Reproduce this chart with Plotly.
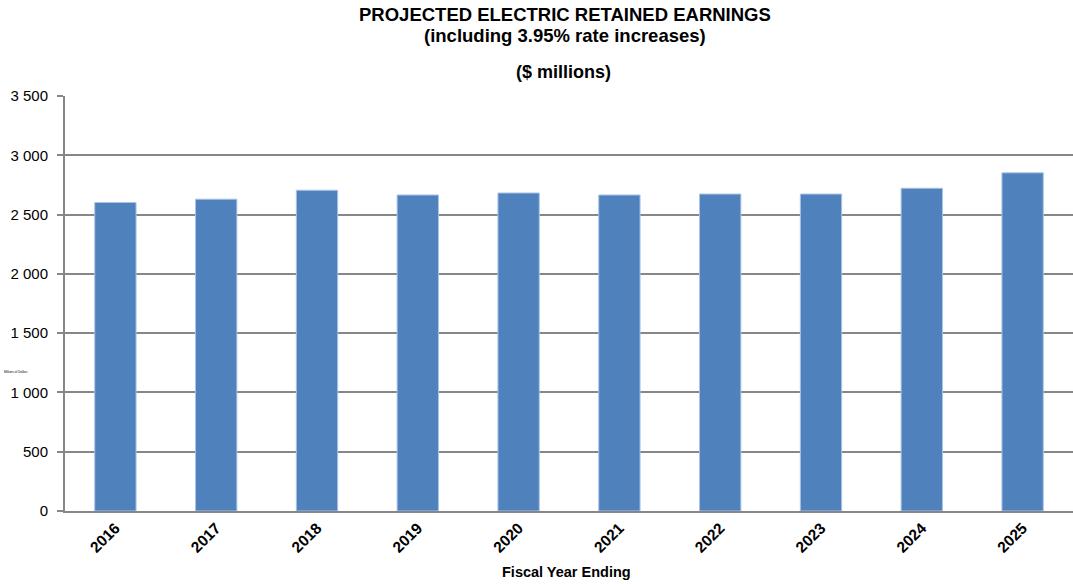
import plotly.graph_objects as go

# Fiscal years and projected retained earnings ($ millions)
years = ["2016", "2017", "2018", "2019", "2020", "2021", "2022", "2023", "2024", "2025"]
earnings = [2602, 2630, 2705, 2665, 2682, 2665, 2673, 2673, 2722, 2852]

y_ticks = [0, 500, 1000, 1500, 2000, 2500, 3000, 3500]
y_tick_labels = ["0", "500", "1 000", "1 500", "2 000", "2 500", "3 000", "3 500"]

title_lines = ["PROJECTED ELECTRIC RETAINED EARNINGS", "(including 3.95% rate increases)"]
subtitle = "($ millions)"
x_title = "Fiscal Year Ending"
y_title = "Millions of Dollars"

FONT = "Liberation Sans, Arial, sans-serif"
GRID = "#878787"

fig = go.Figure(
    go.Bar(
        x=years,
        y=earnings,
        marker=dict(color="#4F81BD", line=dict(color="#A9C3E6", width=1)),
        width=0.41,
        hoverinfo="x+y",
    )
)

fig.update_layout(
    width=1073,
    height=584,
    margin=dict(l=65, r=0, t=96, b=73),
    paper_bgcolor="white",
    plot_bgcolor="white",
    showlegend=False,
    font=dict(family=FONT, color="black", size=14),
    bargap=0.59,
)

fig.update_xaxes(
    type="category",
    tickvals=years,
    ticktext=[f"<b>{y}</b>" for y in years],
    tickangle=-45,
    tickfont=dict(size=15.5, family=FONT),
    showline=True,
    linecolor=GRID,
    linewidth=2,
    showgrid=False,
    ticks="",
    range=[-0.5, len(years) - 0.5],
)

fig.update_yaxes(
    range=[0, 3500],
    tickvals=y_ticks,
    ticktext=y_tick_labels,
    tickfont=dict(size=15, family=FONT),
    showgrid=True,
    gridcolor=GRID,
    gridwidth=2,
    showline=True,
    linecolor=GRID,
    linewidth=2,
    ticks="outside",
    ticklen=6,
    tickwidth=2,
    tickcolor=GRID,
    ticklabelstandoff=6,
    zeroline=False,
)

annotations = []
for i, line in enumerate(title_lines):
    annotations.append(dict(
        text=f"<b>{line}</b>", xref="paper", yref="paper",
        x=(565 - 65) / (1073 - 65), y=1 + (96 - (14 + 22 * i)) / 415,
        showarrow=False, font=dict(size=18.5, family=FONT),
        xanchor="center", yanchor="middle",
    ))
annotations.append(dict(
    text=f"<b>{subtitle}</b>", xref="paper", yref="paper",
    x=(563 - 65) / (1073 - 65), y=1 + (96 - 72) / 415,
    showarrow=False, font=dict(size=18, family=FONT),
    xanchor="center", yanchor="middle",
))
annotations.append(dict(
    text=f"<b>{x_title}</b>", xref="paper", yref="paper",
    x=(566 - 65) / 1008, y=-(572 - 511) / 415,
    showarrow=False, font=dict(size=14.5, family=FONT),
    xanchor="center", yanchor="middle",
))
annotations.append(dict(
    text=y_title, xref="paper", yref="paper",
    x=-(65 - 2) / 1008, y=(511 - 372) / 415,
    showarrow=False, font=dict(size=3, family=FONT, color="black"),
    xanchor="left", yanchor="middle",
))
fig.update_layout(annotations=annotations)

fig.write_html("out.html")
